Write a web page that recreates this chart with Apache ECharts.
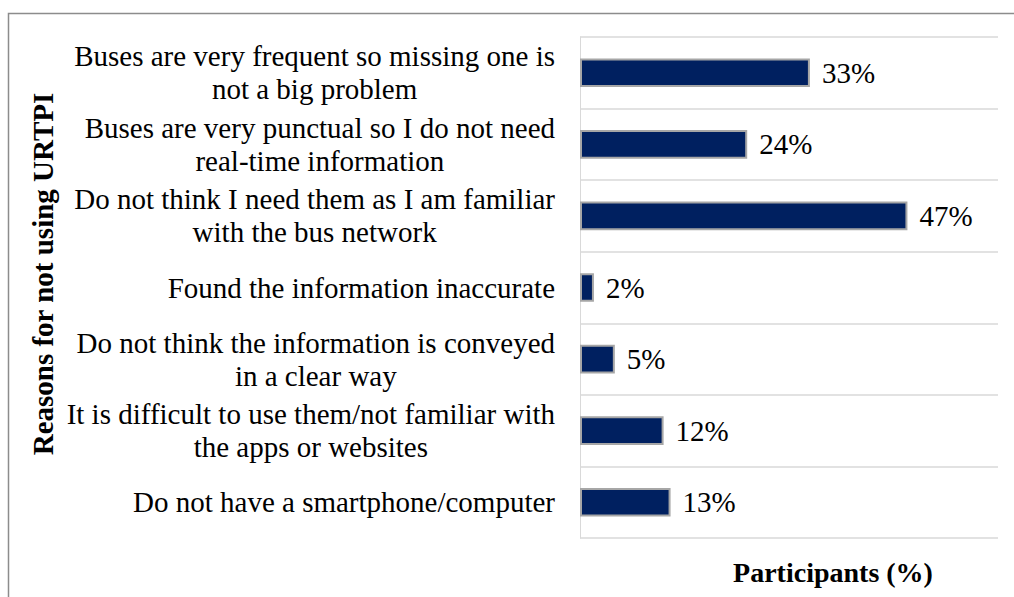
<!DOCTYPE html>
<html>
<head>
<meta charset="utf-8">
<style>
  html, body { margin: 0; padding: 0; background: #fff; }
  #chart { width: 1014px; height: 597px; }
</style>
<script src="https://cdn.jsdelivr.net/npm/echarts@6/dist/echarts.min.js"></script>
</head>
<body>
<div id="chart"></div>
<script>
// Reasons given for not using real-time passenger information
const reasons = [
  'Buses are very frequent so missing one is\nnot a big problem',
  'Buses are very punctual so I do not need\nreal-time information',
  'Do not think I need them as I am familiar\nwith the bus network',
  'Found the information inaccurate',
  'Do not think the information is conveyed\nin a clear way',
  'It is difficult to use them/not familiar with\nthe apps or websites',
  'Do not have a smartphone/computer'
];
// Share of participants (%)
const participants = [33, 24, 47, 2, 5, 12, 13];

const yTitle = 'Reasons for not using URTPI';
const xTitle = 'Participants (%)';

const serif = "'Liberation Serif', 'Times New Roman', serif";

const chart = echarts.init(document.getElementById('chart'), null, { renderer: 'svg' });

chart.setOption({
  animation: false,
  backgroundColor: '#ffffff',
  grid: { left: 580, right: 16, top: 37, bottom: 59, containLabel: false },
  xAxis: {
    type: 'value',
    min: 0,
    max: 60,
    axisLine: { show: false },
    axisTick: { show: false },
    axisLabel: { show: false },
    splitLine: { show: false }
  },
  yAxis: {
    type: 'category',
    inverse: true,
    data: reasons,
    axisLine: { show: true, lineStyle: { color: '#d9d9d9', width: 1 } },
    axisTick: { show: false },
    splitLine: { show: true, lineStyle: { color: '#d9d9d9', width: 1.5 } },
    axisLabel: {
      margin: 25,
      align: 'right',
      // each line centred inside the right-aligned label block
      formatter: v => v.split('\n').map(l => '{c|' + l + '}').join('\n'),
      rich: {
        c: {
          align: 'center',
          fontFamily: serif,
          fontSize: 29,
          lineHeight: 33,
          color: '#000'
        }
      }
    }
  },
  series: [{
    type: 'bar',
    data: participants,
    barCategoryGap: '60%',
    itemStyle: { color: '#002060', borderColor: '#a6a6a6', borderWidth: 2 },
    label: {
      show: true,
      position: 'right',
      distance: 12,
      formatter: '{c}%',
      fontFamily: serif,
      fontSize: 29,
      color: '#000'
    }
  }],
  graphic: [
    {
      type: 'polyline',
      shape: { points: [[8.5, 597], [8.5, 13.5], [1014, 13.5]] },
      style: { stroke: '#8c8c8c', lineWidth: 1.5, fill: null },
      silent: true
    },
    {
      type: 'text',
      x: 43,
      y: 274,
      rotation: Math.PI / 2,
      style: {
        text: yTitle,
        fontFamily: serif,
        fontWeight: 'bold',
        fontSize: 29,
        fill: '#000',
        align: 'center',
        verticalAlign: 'middle'
      }
    },
    {
      type: 'text',
      x: 833,
      y: 572,
      style: {
        text: xTitle,
        fontFamily: serif,
        fontWeight: 'bold',
        fontSize: 28,
        fill: '#000',
        align: 'center',
        verticalAlign: 'middle'
      }
    }
  ]
});
</script>
</body>
</html>
